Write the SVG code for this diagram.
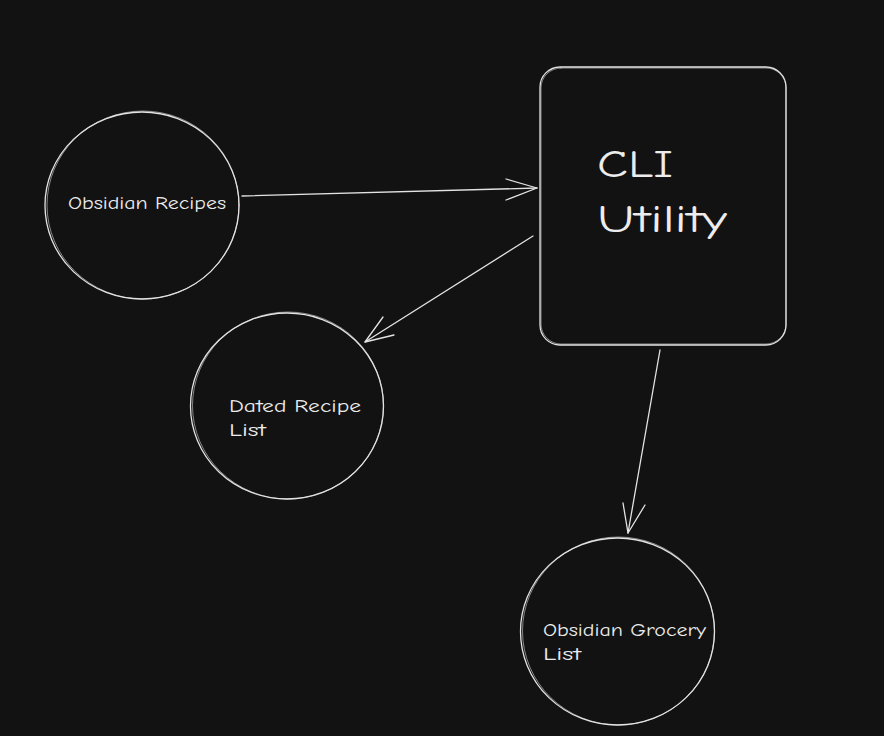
<svg xmlns="http://www.w3.org/2000/svg" width="884" height="736" viewBox="0 0 884 736">
<style>
.bg{fill:#121212}
.shape{fill:none;stroke:#e3e3e3;stroke-width:1.3;stroke-linecap:round;stroke-linejoin:round}
.shape2{fill:none;stroke:#e3e3e3;stroke-width:0.8;stroke-linecap:round;opacity:0.7}
.conn{fill:none;stroke:#e3e3e3;stroke-width:1.3;stroke-linecap:round;stroke-linejoin:round}
.lbl{fill:#ececec;font-family:"Comic Neue","Liberation Sans","DejaVu Sans",sans-serif}
.small{font-size:17px}
.big{font-size:38px}
</style>
<rect class="bg" x="0" y="0" width="884" height="736"/>
<g id="node-obsidian-recipes">
<ellipse class="shape" cx="142" cy="205.5" rx="97" ry="93.5"/>
<ellipse class="shape2" cx="143" cy="205" rx="96" ry="94"/>
<text class="lbl small" x="68" y="209" textLength="158" lengthAdjust="spacingAndGlyphs">Obsidian Recipes</text>
</g>
<g id="node-cli-utility">
<rect class="shape" x="540" y="67" width="246" height="278" rx="20" ry="20"/>
<rect class="shape2" x="541" y="68" width="245" height="276" rx="20" ry="20"/>
<text class="lbl big" x="597" y="177" textLength="76" lengthAdjust="spacingAndGlyphs">CLI</text>
<text class="lbl big" x="597" y="232" textLength="130" lengthAdjust="spacingAndGlyphs">Utility</text>
</g>
<g id="node-dated-recipe-list">
<ellipse class="shape" cx="287" cy="406" rx="96.5" ry="93"/>
<ellipse class="shape2" cx="288" cy="405.5" rx="95.5" ry="93.5"/>
<text class="lbl small" x="229" y="412" textLength="132" lengthAdjust="spacingAndGlyphs">Dated Recipe</text>
<text class="lbl small" x="229" y="436" textLength="37" lengthAdjust="spacingAndGlyphs">List</text>
</g>
<g id="node-obsidian-grocery-list">
<ellipse class="shape" cx="617.5" cy="631.5" rx="97" ry="93.5"/>
<ellipse class="shape2" cx="618.5" cy="631" rx="96" ry="94"/>
<text class="lbl small" x="543" y="636" textLength="163" lengthAdjust="spacingAndGlyphs">Obsidian Grocery</text>
<text class="lbl small" x="543" y="660" textLength="38" lengthAdjust="spacingAndGlyphs">List</text>
</g>
<g id="connectors">
<path class="conn" d="M242 196 L537 188"/>
<path class="conn" d="M506 179 L537 188 L506 200"/>
<path class="conn" d="M533 236 L365 342"/>
<path class="conn" d="M383 317 L365 342 L394 335"/>
<path class="conn" d="M660 350 L628 533"/>
<path class="conn" d="M623 503 L628 533 L645 505"/>
</g>
</svg>
